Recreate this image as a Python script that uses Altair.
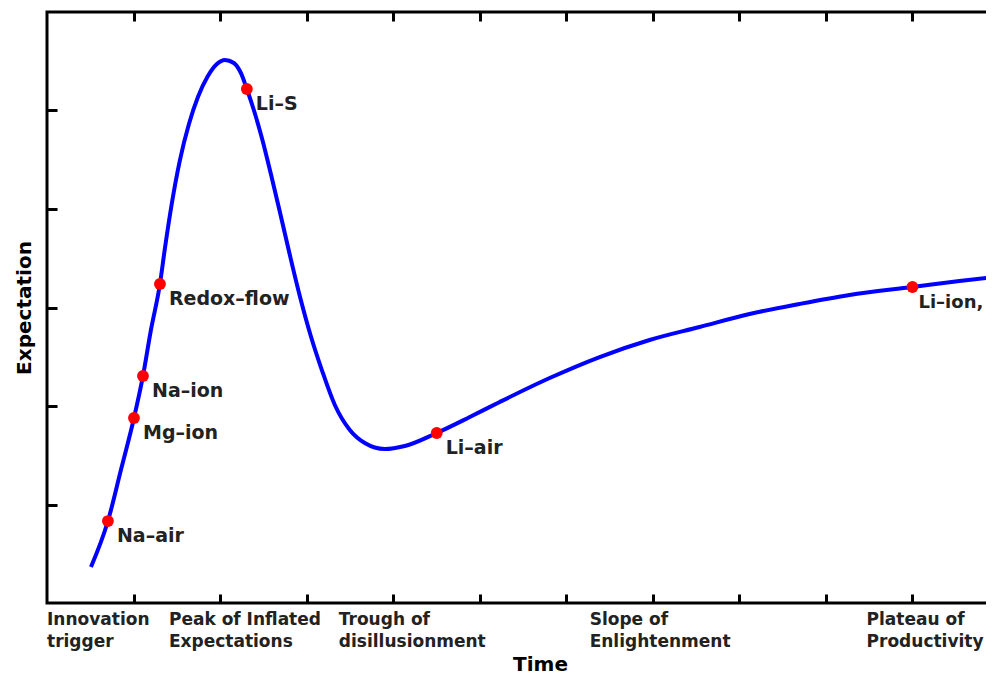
import altair as alt
import pandas as pd

# Hype-cycle curve (x: time units, y: expectation units)
curve_x = [0.508, 0.704, 0.854, 1.005, 1.109, 1.201, 1.305, 1.363, 1.443, 1.536,
           1.640, 1.744, 1.859, 1.963, 2.055, 2.159, 2.240, 2.309, 2.390, 2.483,
           2.587, 2.691, 2.806, 2.921, 3.048, 3.176, 3.326, 3.499, 3.672, 3.903,
           4.134, 4.503, 4.885, 5.231, 5.808, 6.386, 6.963, 7.540, 8.118, 8.695,
           9.273, 10.000, 10.543, 11.0]
curve_y = [0.365, 0.832, 1.350, 1.878, 2.305, 2.772, 3.239, 3.604, 4.061, 4.497,
           4.863, 5.137, 5.350, 5.472, 5.513, 5.482, 5.381, 5.218, 5.005, 4.721,
           4.355, 3.970, 3.533, 3.117, 2.711, 2.365, 2.010, 1.756, 1.624, 1.563,
           1.594, 1.726, 1.888, 2.041, 2.284, 2.497, 2.670, 2.802, 2.934, 3.036,
           3.127, 3.208, 3.269, 3.315]

# Technologies marked on the curve
tech_names = ["Na–air", "Mg–ion", "Na–ion", "Redox–flow", "Li–S", "Li–air", "Li–ion,"]
tech_x = [0.704, 1.005, 1.109, 1.305, 2.309, 4.503, 10.000]
tech_y = [0.832, 1.878, 2.305, 3.239, 5.218, 1.726, 3.208]

# Phase labels under the time axis (left edges)
phase_names = ["Innovation\ntrigger", "Peak of Inflated\nExpectations",
               "Trough of\ndisillusionment", "Slope of\nEnlightenment",
               "Plateau of\nProductivity"]
phase_x = [0.0, 1.409, 3.372, 6.270, 9.47]

x_ticks = [1, 2, 3, 4, 5, 6, 7, 8, 9, 10]
y_ticks = [1, 2, 3, 4, 5]

W, H = 952, 591
FONT = "DejaVu Sans"

curve = pd.DataFrame({"t": curve_x, "e": curve_y})
tech = pd.DataFrame({"t": tech_x, "e": tech_y, "name": tech_names})
phases = pd.DataFrame({"t": phase_x, "name": phase_names})

xscale = alt.Scale(domain=[0, 11.0], nice=False, zero=False)
yscale = alt.Scale(domain=[0, 6], nice=False, zero=False)

line = alt.Chart(curve).mark_line(color="#0000ff", strokeWidth=4, interpolate="monotone").encode(
    x=alt.X("t:Q", scale=xscale,
            axis=alt.Axis(values=x_ticks, labels=False, ticks=False, domain=False,
                          grid=True, gridColor="black", gridWidth=3, gridOpacity=1,
                          gridDash=[9, H - 18, 9, 3000],
                          title="Time", titleFont=FONT, titleFontSize=20,
                          titleFontWeight="bold", titleColor="black",
                          titleX=493, titleY=67, titleBaseline="alphabetic",
                          titleAlign="center")),
    y=alt.Y("e:Q", scale=yscale,
            axis=alt.Axis(values=y_ticks, labels=False, ticks=False, domain=False,
                          grid=True, gridColor="black", gridWidth=3, gridOpacity=1,
                          gridDash=[10, W - 20, 10, 3000],
                          title="Expectation", titleFont=FONT, titleFontSize=20,
                          titleFontWeight="bold", titleColor="black",
                          titlePadding=13)),
)

points = alt.Chart(tech).mark_circle(color="#ff0000", size=140, opacity=1).encode(
    x=alt.X("t:Q", scale=xscale), y=alt.Y("e:Q", scale=yscale)
)

point_labels = alt.Chart(tech).transform_filter(
    alt.datum.t < 9.5
).mark_text(
    align="left", baseline="alphabetic", dx=9, dy=21, font=FONT, fontSize=19,
    fontWeight="bold", color="#222222", clip=False
).encode(x=alt.X("t:Q", scale=xscale), y=alt.Y("e:Q", scale=yscale), text="name:N")

edge_label = alt.Chart(tech).transform_filter(
    alt.datum.t >= 9.5
).mark_text(
    align="left", baseline="alphabetic", dx=6, dy=21, font=FONT, fontSize=18,
    fontWeight="bold", color="#222222", clip=False
).encode(x=alt.X("t:Q", scale=xscale), y=alt.Y("e:Q", scale=yscale), text="name:N")

phase_labels = alt.Chart(phases).mark_text(
    align="left", baseline="alphabetic", font=FONT, fontSize=17, fontWeight="bold",
    color="#222222", lineBreak="\n", lineHeight=22, clip=False
).encode(x=alt.X("t:Q", scale=xscale), y=alt.value(H + 22), text="name:N")

chart = alt.layer(line, points, point_labels, edge_label, phase_labels).properties(
    width=W, height=H,
    padding={"left": 39, "top": 4, "right": -13, "bottom": 71},
    autosize=alt.AutoSizeParams(type="none"),
    background="white",
).configure_view(stroke="black", strokeWidth=3)

chart.save("out.html", embed_options={"renderer": "svg", "actions": False})
